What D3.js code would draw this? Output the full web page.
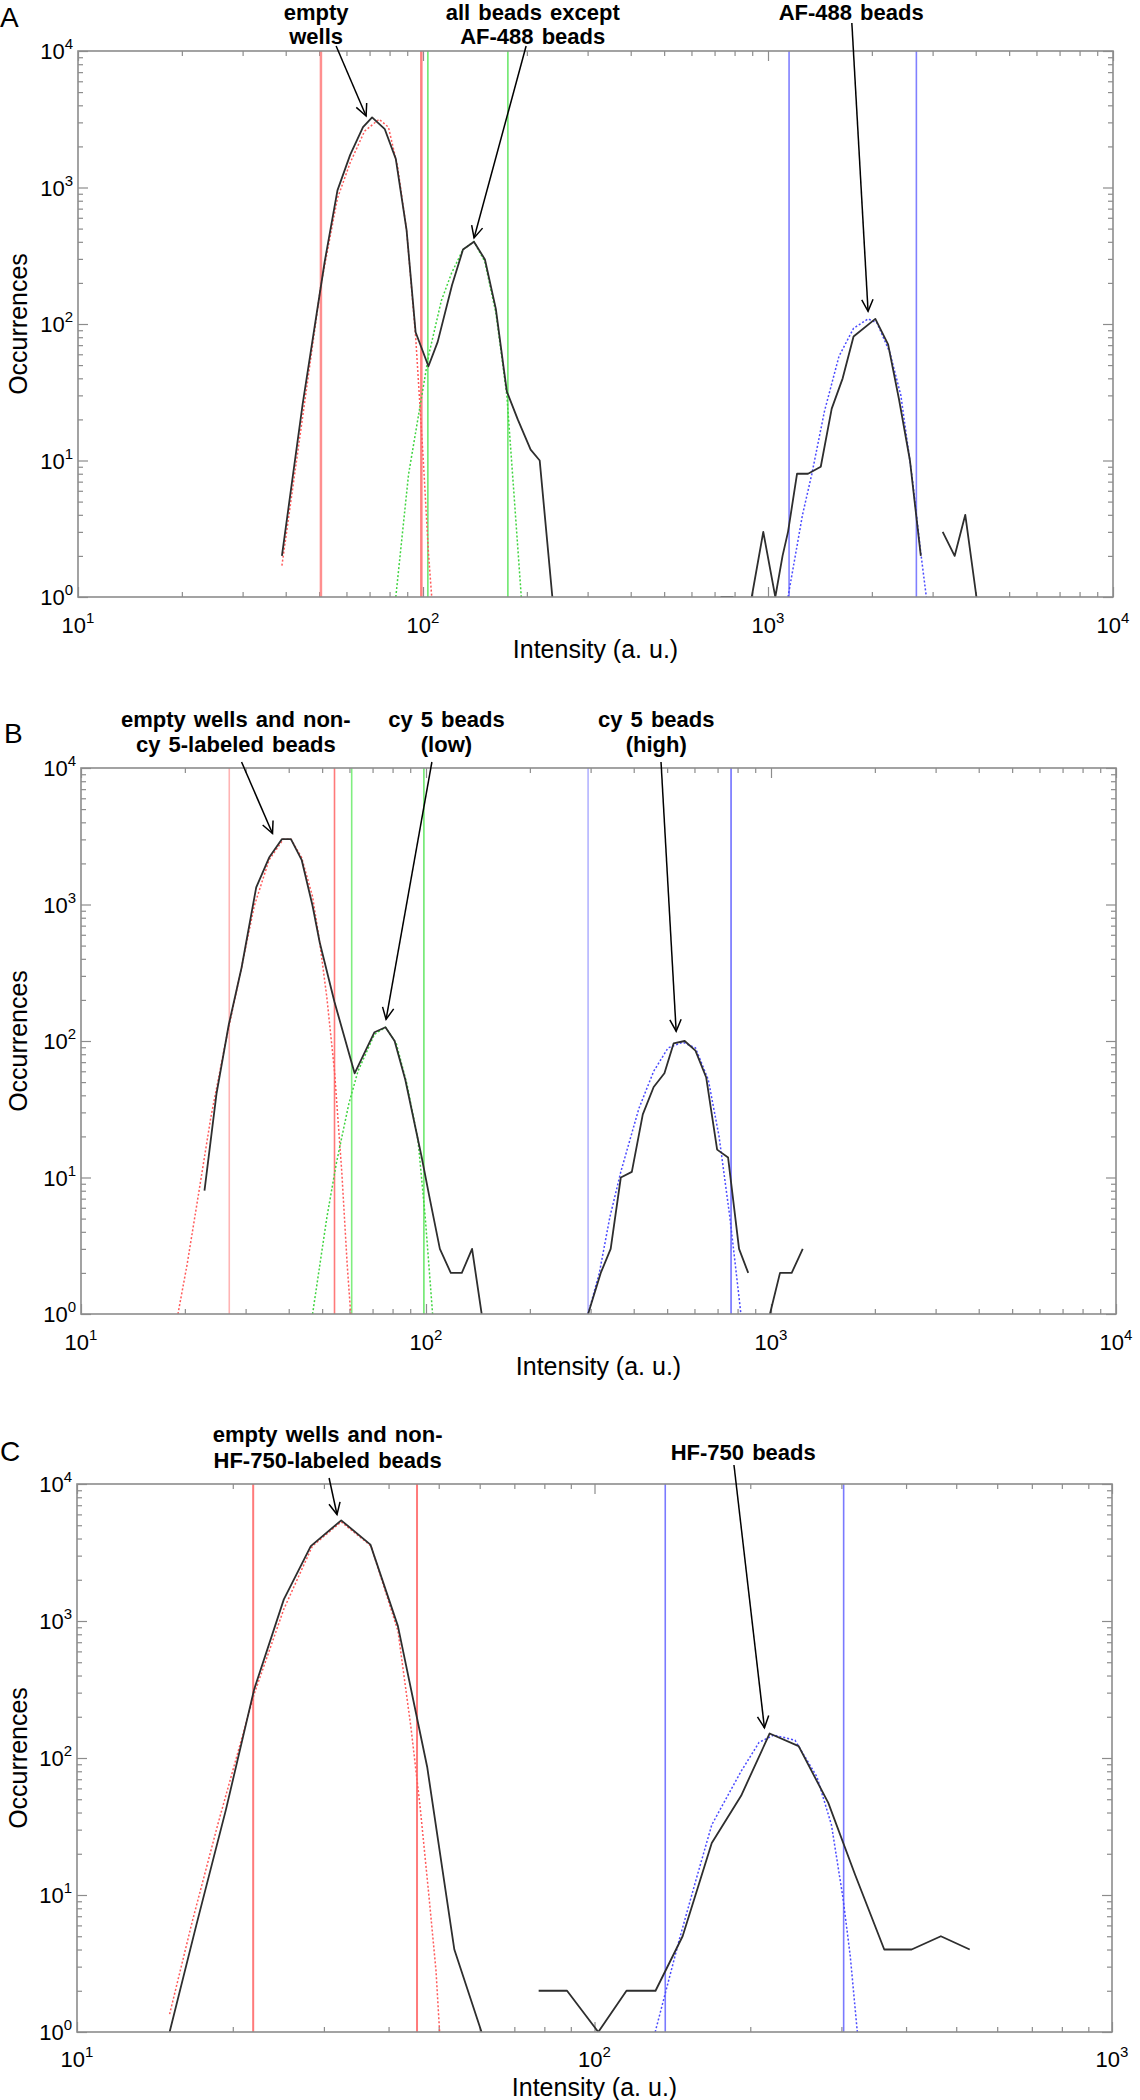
<!DOCTYPE html>
<html><head><meta charset="utf-8">
<script src="https://cdn.jsdelivr.net/npm/d3@7"></script>
<style>body{margin:0;background:#fff}svg{display:block}text{font-family:"Liberation Sans",Arial,sans-serif;fill:#000}</style>
</head><body><svg id="chart" width="1140" height="2100"></svg>
<script>
// ---------------- DATA ----------------
const xAxisTitle = "Intensity (a. u.)";
const yAxisTitle = "Occurrences";
const yDomain = [1, 10000];
const yTickExps = [0, 1, 2, 3, 4];
const xTickExpsA = [1, 2, 3, 4];
const xTickExpsB = [1, 2, 3, 4];
const xTickExpsC = [1, 2, 3];

// Panel A: histogram (null = gap)
const histA_x = [39.0,44.8,51.9,56.5,61.5,67.0,71.2,77.5,83.4,89.6,95.2,103.7,110.3,121.4,130.6,140.5,151.2,162.6,175.0,188.2,205.1,217.9,237.1,480,729,794,850,897,969,1050,1102,1143,1214,1306,1422,1530,1646,1770,2047,2229,2398,2579,2773,3000,3209,3475,3731,4020];
const histA_y = [2,26,287,953,1735,2766,3266,2673,1622,490,87,49,74,193,351,401,297,129,32,20,12,10,1,null,1,1,null,1,3,1,2,3,8,8,9,24,40,81,109,71,28,10,2,null,3,2,4,1];
const fitA_red_x = [39,44.8,50.6,56.5,61.5,67.7,74.6,79.4,84.4,89.6,95.2,100,103.7,106];
const fitA_red_y = [1.7,21,193,834,1517,2588,3162,2766,1422,490,81,11,2.1,1];
const fitA_green_x = [83.4,90.8,103.7,113,121,130.6,140.5,151,162.6,175,183.6,192.7];
const fitA_green_y = [1,7.9,58,148,236,351,401,287,121,30,5.6,1];
const fitA_blue_x = [1143,1259,1339,1458,1606,1770,1950,2070,2254,2427,2611,2773,2877];
const fitA_blue_y = [1,4,7.9,23,58,93,109,102,62,30,7.9,2.1,1];
const gateA_red = [50.6, 98.9];
const gateA_green = [103.3, 176.2];
const gateA_blue = [1151, 2692];
const notesA_text = [["empty","wells"],["all beads except","AF-488 beads"],["AF-488 beads"]];
const notesA_labelX = [49, 208, 1742];
const notesA_startX = [56, 199, 1750];
const notesA_tipX = [68.4, 140.6, 1950];
const notesA_tipY = [3342, 427, 124];

// Panel B
const histB_x = [22.8,24.7,26.8,29.2,32.2,35.1,38.2,40.6,43.6,46.9,49.2,54.3,62.1,70.9,76.3,81.1,87.1,97.2,102,109.7,118,127,136,145,200,295,321,343,367,395,425,457,491,522,562,604,649,698,751,808,859,930,993,1062,1148,1236];
const histB_y = [8,41,131,344,1334,2208,3010,3010,2125,979,527,193,58,116,126,100,52,14,7.5,3,2,2,3,1,null,1,2,3,10,11,29,46,58,96,100,85,54,16,14,3,2,null,1,2,2,3];
const fitB_red_x = [19.1,20.3,21.9,23.8,26.2,28.9,31.8,35.1,38.6,40.6,43.6,46.9,49.2,51.6,54.3,57,59.1,60.5];
const fitB_red_y = [1,2.3,7.5,27.8,96,306,979,2125,3010,3010,2208,1143,527,208,60,11,2.3,1];
const fitB_green_x = [46.9,51.6,55,59.8,63.5,70.9,76.3,82,88.1,94.8,99.5,104.5];
const fitB_green_y = [1,5.1,12.8,35,60,112,126,96,48,18.8,5.1,1];
const fitB_blue_x = [295,318,341,367,414,457,503,555,604,658,707,760,788,818];
const fitB_blue_y = [1,2,5.1,11,32,60,89,98,89,52,20,5.1,2.3,1];
const gateB_red = [26.9, 54.3];
const gateB_green = [60.9, 98.6];
const gateB_blue = [295, 766];
const notesB_text = [["empty wells and non-","cy 5-labeled beads"],["cy 5 beads","(low)"],["cy 5 beads","(high)"]];
const notesB_labelX = [28.1, 114.6, 465];
const notesB_startX = [29.2, 104, 480];
const notesB_tipX = [35.9, 76.6, 531];
const notesB_tipY = [3311, 144, 118];

// Panel C
const histC_x = [15.1,17.0,19.4,22.0,25.1,28.3,32.4,36.9,41.7,47.5,53.6,60.5,70,78.0,88.5,101.7,115.3,131.2,148,168.5,192,218,248,283,319,363,410,467,531];
const histC_y = [1,6,42,318,1438,3523,5429,3612,918,86,4,1,null,2,2,1,2,2,5,24,53,151,122,47,14,4,4,5,4];
const fitC_red_x = [15.1,16.7,18.7,22.0,25.1,28.5,32.4,37.0,41.7,44.2,46.0,47.9,49.4,50.2];
const fitC_red_y = [1.35,6.4,32.5,294,1222,3523,5297,3523,847,166,45,9.6,2.8,1];
const fitC_blue_x = [131,146,157,168.5,192,208,222,244,269,287,302,312,322];
const fitC_blue_y = [1,4.8,12.8,32.5,80,130,147,135,73,32.5,9.6,3.6,1];
const gateC_red = [21.9, 45.4];
const gateC_blue = [137, 303];
const notesC_text = [["empty wells and non-","HF-750-labeled beads"],["HF-750 beads"]];
const notesC_labelX = [30.5, 193.8];
const notesC_startX = [30.7, 186];
const notesC_tipX = [31.8, 213];
const notesC_tipY = [5986, 166];

// ---------------- LAYOUT / STYLE ----------------
const zip = (a, b) => a.map((v, i) => [v, b[i]]);
const mkNotes = (t, lx, sx, tx, ty) => t.map((lines, i) => ({lines, labelX: lx[i], startX: sx[i], tip: [tx[i], ty[i]]}));

const panels = [
  {id: "A", xDomain: [10, 10000], xExps: xTickExpsA,
   hist: zip(histA_x, histA_y),
   fits: [{d: zip(fitA_red_x, fitA_red_y), c: "#ff5a5a"}, {d: zip(fitA_green_x, fitA_green_y), c: "#3fd43f"}, {d: zip(fitA_blue_x, fitA_blue_y), c: "#4a4aff"}],
   gates: [{v: gateA_red, c: ["#ff8f8f", "#ff8080"], w: 2.5}, {v: gateA_green, c: ["#6ee86e", "#6ee86e"], w: 1.6}, {v: gateA_blue, c: ["#8080ff", "#8080ff"], w: 1.6}],
   notes: mkNotes(notesA_text, notesA_labelX, notesA_startX, notesA_tipX, notesA_tipY)},
  {id: "B", xDomain: [10, 10000], xExps: xTickExpsB,
   hist: zip(histB_x, histB_y),
   fits: [{d: zip(fitB_red_x, fitB_red_y), c: "#ff5a5a"}, {d: zip(fitB_green_x, fitB_green_y), c: "#3fd43f"}, {d: zip(fitB_blue_x, fitB_blue_y), c: "#4a4aff"}],
   gates: [{v: gateB_red, c: ["#ffb4b4", "#ff7a7a"], w: 1.6}, {v: gateB_green, c: ["#80ee80", "#6ee86e"], w: 1.6}, {v: gateB_blue, c: ["#b4b4ff", "#7070ff"], w: 1.6}],
   notes: mkNotes(notesB_text, notesB_labelX, notesB_startX, notesB_tipX, notesB_tipY)},
  {id: "C", xDomain: [10, 1000], xExps: xTickExpsC,
   hist: zip(histC_x, histC_y),
   fits: [{d: zip(fitC_red_x, fitC_red_y), c: "#ff5a5a"}, {d: zip(fitC_blue_x, fitC_blue_y), c: "#4a4aff"}],
   gates: [{v: gateC_red, c: ["#ff7a7a", "#ff7a7a"], w: 2}, {v: gateC_blue, c: ["#7a7aff", "#7a7aff"], w: 1.6}],
   notes: mkNotes(notesC_text, notesC_labelX, notesC_startX, notesC_tipX, notesC_tipY)}
];

const layout = {
  A: {x0: 78, x1: 1113, y0: 51, y1: 597, letter: [0, 27], titleDy: 61, tickDy: 36, lh: 23.5,
      noteOff: [{ly: -38.5, sy: -5}, {ly: -38.5, sy: -5}, {ly: -38.5, sy: -28}]},
  B: {x0: 81, x1: 1116, y0: 768, y1: 1314, letter: [4, 743], titleDy: 61, tickDy: 36, lh: 25,
      noteOff: [{ly: -49, sy: -6}, {ly: -49, sy: -6}, {ly: -49, sy: -6}]},
  C: {x0: 77, x1: 1112, y0: 1484, y1: 2032, letter: [0, 1461], titleDy: 64, tickDy: 35, lh: 25.5,
      noteOff: [{ly: -49.5, sy: -6}, {ly: -31.5, sy: -19}]}
};

const frameColor = "#8c8c8c";
const svg = d3.select("#chart");
const defs = svg.append("defs");

function powLabel(sel, exp) {
  sel.append("tspan").text("10");
  sel.append("tspan").attr("dy", -10).attr("font-size", 15).text(exp);
}

panels.forEach(p => {
  const L = layout[p.id];
  const xs = d3.scaleLog().domain(p.xDomain).range([L.x0, L.x1]);
  const ys = d3.scaleLog().domain(yDomain).range([L.y1, L.y0]);
  const g = svg.append("g");
  const clipId = "clip" + p.id;
  defs.append("clipPath").attr("id", clipId).append("rect")
    .attr("x", L.x0).attr("y", L.y0).attr("width", L.x1 - L.x0).attr("height", L.y1 - L.y0);

  // ticks
  const majorX = p.xExps.map(e => Math.pow(10, e));
  const minorX = [];
  p.xExps.slice(0, -1).forEach(e => { for (let k = 2; k <= 9; k++) minorX.push(k * Math.pow(10, e)); });
  const majorY = yTickExps.map(e => Math.pow(10, e));
  const minorY = [];
  yTickExps.slice(0, -1).forEach(e => { for (let k = 2; k <= 9; k++) minorY.push(k * Math.pow(10, e)); });
  const mk = (axis, tr) => {
    const a = g.append("g").attr("transform", tr).call(axis);
    a.select(".domain").remove();
    a.selectAll(".tick line").attr("stroke", frameColor).attr("stroke-width", 1.2);
    a.selectAll(".tick text").remove();
  };
  mk(d3.axisBottom(xs).tickValues(majorX).tickSize(-10), `translate(0,${L.y1})`);
  mk(d3.axisBottom(xs).tickValues(minorX).tickSize(-5), `translate(0,${L.y1})`);
  mk(d3.axisTop(xs).tickValues(majorX).tickSize(-10), `translate(0,${L.y0})`);
  mk(d3.axisTop(xs).tickValues(minorX).tickSize(-5), `translate(0,${L.y0})`);
  mk(d3.axisLeft(ys).tickValues(majorY).tickSize(-10), `translate(${L.x0},0)`);
  mk(d3.axisLeft(ys).tickValues(minorY).tickSize(-5), `translate(${L.x0},0)`);
  mk(d3.axisRight(ys).tickValues(majorY).tickSize(-10), `translate(${L.x1},0)`);
  mk(d3.axisRight(ys).tickValues(minorY).tickSize(-5), `translate(${L.x1},0)`);

  // tick labels
  p.xExps.forEach(e => {
    const t = g.append("text").attr("x", xs(Math.pow(10, e))).attr("y", L.y1 + L.tickDy)
      .attr("text-anchor", "middle").attr("font-size", 22);
    powLabel(t, e);
  });
  yTickExps.forEach(e => {
    const t = g.append("text").attr("x", L.x0 - 5).attr("y", ys(Math.pow(10, e)) + 8)
      .attr("text-anchor", "end").attr("font-size", 22);
    powLabel(t, e);
  });

  // titles
  g.append("text").attr("x", (L.x0 + L.x1) / 2).attr("y", L.y1 + L.titleDy)
    .attr("text-anchor", "middle").attr("font-size", 25).text(xAxisTitle);
  g.append("text").attr("transform", `translate(27,${(L.y0 + L.y1) / 2}) rotate(-90)`)
    .attr("text-anchor", "middle").attr("font-size", 25).text(yAxisTitle);
  g.append("text").attr("x", L.letter[0]).attr("y", L.letter[1]).attr("font-size", 28).text(p.id);

  const plot = g.append("g").attr("clip-path", `url(#${clipId})`);
  // gate lines
  p.gates.forEach(gt => {
    plot.selectAll(null).data(gt.v).enter().append("line")
      .attr("x1", d => xs(d)).attr("x2", d => xs(d)).attr("y1", L.y0).attr("y2", L.y1)
      .attr("stroke", (d, i) => gt.c[i]).attr("stroke-width", gt.w);
  });
  const line = d3.line().defined(d => d[1] != null).x(d => xs(d[0])).y(d => ys(d[1]));
  p.fits.forEach(f => {
    plot.append("path").attr("d", line(f.d)).attr("fill", "none").attr("stroke", f.c)
      .attr("stroke-width", 1.5).attr("stroke-dasharray", "2,2");
  });
  plot.append("path").attr("d", line(p.hist)).attr("fill", "none").attr("stroke", "#2e2e2e")
    .attr("stroke-width", 1.8).attr("stroke-linejoin", "round");

  // frame
  g.append("rect").attr("x", L.x0).attr("y", L.y0).attr("width", L.x1 - L.x0).attr("height", L.y1 - L.y0)
    .attr("fill", "none").attr("stroke", frameColor).attr("stroke-width", 1.6);

  // annotations
  p.notes.forEach((n, k) => {
    const off = L.noteOff[k];
    const lx = xs(n.labelX);
    n.lines.forEach((t, j) => {
      g.append("text").attr("x", lx).attr("y", L.y0 + off.ly + j * L.lh).attr("dy", "0.35em")
        .attr("text-anchor", "middle").attr("font-weight", "bold").attr("font-size", 22)
        .attr("word-spacing", 2).text(t);
    });
    const sx = xs(n.startX), sy = L.y0 + off.sy, tx = xs(n.tip[0]), ty = ys(n.tip[1]);
    g.append("line").attr("x1", sx).attr("y1", sy).attr("x2", tx).attr("y2", ty)
      .attr("stroke", "#000").attr("stroke-width", 1.5);
    const ang = Math.atan2(ty - sy, tx - sx), hl = 13, sp = 0.45;
    g.append("path")
      .attr("d", `M${tx - hl * Math.cos(ang - sp)},${ty - hl * Math.sin(ang - sp)}L${tx},${ty}L${tx - hl * Math.cos(ang + sp)},${ty - hl * Math.sin(ang + sp)}`)
      .attr("fill", "none").attr("stroke", "#000").attr("stroke-width", 1.5);
  });
});
</script>
</body></html>
